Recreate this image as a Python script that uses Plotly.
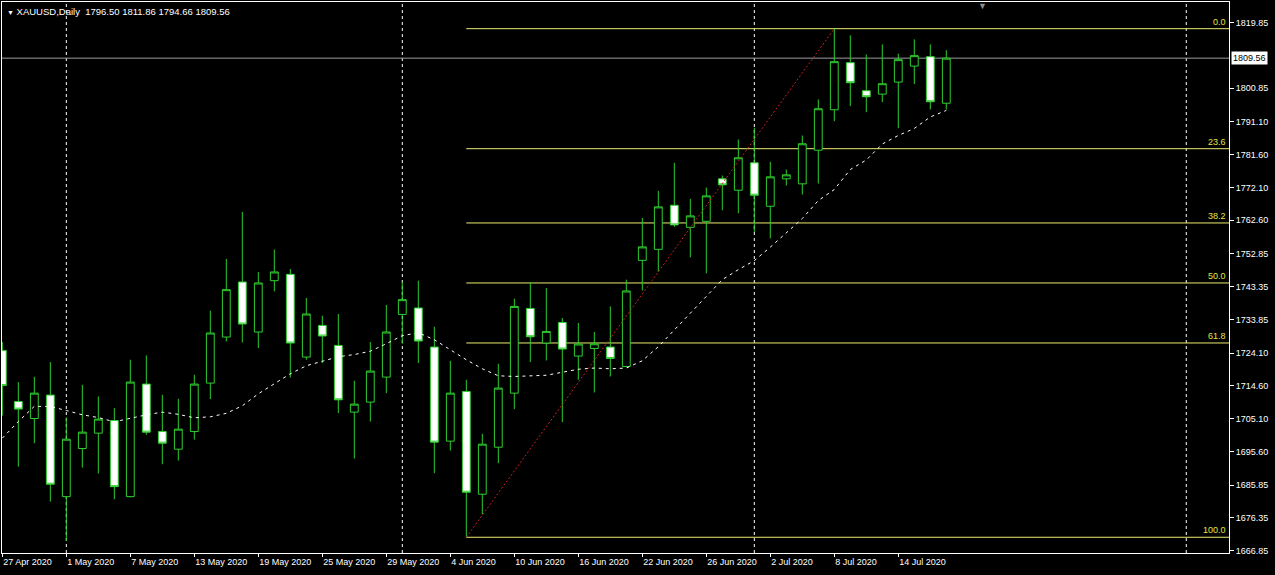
import plotly.graph_objects as go

# ---------------- data ----------------
dates = ["27 Apr 2020", "28 Apr 2020", "29 Apr 2020", "30 Apr 2020", "1 May 2020",
         "4 May 2020", "5 May 2020", "6 May 2020", "7 May 2020", "8 May 2020",
         "11 May 2020", "12 May 2020", "13 May 2020", "14 May 2020", "15 May 2020",
         "18 May 2020", "19 May 2020", "20 May 2020", "21 May 2020", "22 May 2020",
         "25 May 2020", "26 May 2020", "27 May 2020", "28 May 2020", "29 May 2020",
         "1 Jun 2020", "2 Jun 2020", "3 Jun 2020", "4 Jun 2020", "5 Jun 2020",
         "8 Jun 2020", "9 Jun 2020", "10 Jun 2020", "11 Jun 2020", "12 Jun 2020",
         "15 Jun 2020", "16 Jun 2020", "17 Jun 2020", "18 Jun 2020", "19 Jun 2020",
         "22 Jun 2020", "23 Jun 2020", "24 Jun 2020", "25 Jun 2020", "26 Jun 2020",
         "29 Jun 2020", "30 Jun 2020", "1 Jul 2020", "2 Jul 2020", "3 Jul 2020",
         "6 Jul 2020", "7 Jul 2020", "8 Jul 2020", "9 Jul 2020", "10 Jul 2020",
         "13 Jul 2020", "14 Jul 2020", "15 Jul 2020", "16 Jul 2020", "17 Jul 2020"]

opens = [1724.87, 1710.07, 1705.14, 1711.93, 1682.51, 1696.44, 1700.91, 1704.56, 1682.51, 1715.12,
         1701.37, 1696.26, 1701.37, 1715.41, 1728.76, 1744.71, 1730.21, 1745.09, 1746.92, 1722.95,
         1732.12, 1726.32, 1707.00, 1709.90, 1717.15, 1735.31, 1737.17, 1725.85, 1698.59, 1712.98,
         1683.21, 1696.84, 1712.50, 1737.05, 1727.02, 1732.99, 1723.24, 1725.45, 1725.85, 1720.23,
         1750.98, 1754.17, 1766.93, 1760.55, 1762.29, 1774.59, 1771.29, 1779.24, 1766.64, 1774.59,
         1773.14, 1782.89, 1794.61, 1808.25, 1800.12, 1799.14, 1802.62, 1807.26, 1809.99, 1796.50]
highs = [1727.30, 1715.70, 1717.24, 1721.50, 1705.43, 1714.92, 1711.53, 1708.16, 1722.17, 1723.42,
         1712.02, 1710.86, 1717.82, 1736.39, 1751.38, 1765.02, 1747.61, 1754.08, 1748.48, 1740.07,
         1734.94, 1735.43, 1716.08, 1727.30, 1738.04, 1744.71, 1745.09, 1731.75, 1721.88, 1716.37,
         1700.70, 1721.01, 1739.87, 1744.71, 1742.97, 1734.27, 1732.82, 1730.21, 1737.63, 1745.38,
         1763.28, 1771.11, 1779.24, 1768.79, 1772.07, 1775.55, 1785.99, 1789.39, 1779.53, 1777.29,
         1787.15, 1797.60, 1818.10, 1816.17, 1810.65, 1813.55, 1810.86, 1815.01, 1813.55, 1811.86]
lows = [1706.00, 1691.20, 1698.00, 1681.06, 1669.66, 1690.93, 1689.19, 1681.76, 1682.30, 1700.42,
        1691.91, 1692.96, 1699.03, 1710.77, 1727.48, 1727.19, 1725.57, 1741.99, 1717.04, 1722.17,
        1721.21, 1706.71, 1693.54, 1704.27, 1712.51, 1726.81, 1721.21, 1689.30, 1695.86, 1670.74,
        1677.41, 1692.20, 1707.87, 1721.50, 1721.97, 1704.10, 1716.37, 1712.69, 1717.33, 1720.00,
        1742.28, 1747.70, 1760.67, 1751.85, 1747.21, 1765.48, 1764.61, 1759.22, 1757.36, 1772.65,
        1770.04, 1773.23, 1791.30, 1795.65, 1793.91, 1796.82, 1789.27, 1802.04, 1794.70, 1794.66]
closes = [1714.70, 1707.87, 1712.50, 1686.11, 1699.16, 1701.20, 1704.97, 1685.41, 1715.70, 1701.20,
          1698.00, 1702.07, 1715.12, 1729.92, 1742.48, 1732.53, 1744.42, 1747.61, 1727.02, 1735.43,
          1729.05, 1710.57, 1709.32, 1718.89, 1730.21, 1739.58, 1727.60, 1698.30, 1712.50, 1683.79,
          1697.71, 1713.96, 1737.63, 1728.84, 1730.38, 1725.27, 1726.73, 1726.81, 1722.55, 1742.10,
          1754.87, 1766.47, 1761.25, 1763.86, 1769.66, 1772.85, 1780.69, 1769.84, 1775.17, 1775.75,
          1784.75, 1794.90, 1808.54, 1802.44, 1798.38, 1802.15, 1809.12, 1810.28, 1796.93, 1809.56]

moving_average = [1699.46, 1704.25, 1708.68, 1708.63, 1707.47, 1706.22, 1705.43, 1704.19, 1705.20, 1706.22,
                  1707.00, 1706.36, 1705.35, 1705.64, 1706.65, 1708.83, 1712.31, 1715.21, 1718.11, 1720.43,
                  1721.74, 1723.04, 1723.68, 1724.64, 1726.82, 1729.14, 1730.01, 1727.98, 1725.07, 1722.17,
                  1719.56, 1717.53, 1717.33, 1717.44, 1717.68, 1718.55, 1719.42, 1719.77, 1719.56, 1719.77,
                  1721.88, 1725.95, 1730.88, 1735.81, 1740.74, 1745.38, 1748.28, 1750.89, 1754.81, 1758.87,
                  1763.08, 1768.30, 1771.49, 1777.29, 1780.05, 1784.69, 1787.16, 1789.19, 1792.52, 1794.41]

price_ticks = [1819.85, 1800.85, 1791.10, 1781.60, 1772.10, 1762.60, 1752.85, 1743.35,
               1733.85, 1724.10, 1714.60, 1705.10, 1695.60, 1685.85, 1676.35, 1666.85]
date_tick_bars = [0, 4, 8, 12, 16, 20, 24, 28, 32, 36, 40, 44, 48, 52, 56]
separator_bars = [4, 25, 47, 74]          # month starts (1 May, 1 Jun, 1 Jul, 1 Aug)

current_price = 1809.56
header = "XAUUSD,Daily  1796.50 1811.86 1794.66 1809.56"

fib_start_bar, fib_end_bar = 29, 52
fib_low, fib_high = 1670.74, 1818.10
fib_levels = [0.0, 23.6, 38.2, 50.0, 61.8, 100.0]

x_min, x_max = -0.02, 76.67
y_min, y_max = 1666.18, 1825.83

# ---------------- styles ----------------
GREEN = "#2fcf2f"
FONT = "Liberation Sans"
FIB_LINE = "#ecec70"
FIB_TEXT = "#e4e440"

bars = list(range(len(opens)))

fig = go.Figure()

fig.add_trace(go.Candlestick(
    x=bars, open=opens, high=highs, low=lows, close=closes,
    increasing=dict(line=dict(color=GREEN, width=1), fillcolor="#000000"),
    decreasing=dict(line=dict(color=GREEN, width=1), fillcolor="#ffffff"),
    whiskerwidth=0, showlegend=False, hoverinfo="skip"))

fig.add_trace(go.Scatter(
    x=bars, y=moving_average, mode="lines",
    line=dict(color="#ffffff", width=1, dash="3px,4px"),
    showlegend=False, hoverinfo="skip"))

shapes = []
# period separators
for b in separator_bars:
    shapes.append(dict(type="line", xref="x", yref="paper", x0=b, x1=b, y0=0, y1=1,
                       line=dict(color="#ffffff", width=1, dash="3px,3px"), layer="below"))
# current price line
shapes.append(dict(type="line", xref="paper", yref="y", x0=0, x1=1,
                   y0=current_price, y1=current_price,
                   line=dict(color="#9a9aa2", width=1), layer="below"))
# fibonacci levels
annotations = []
for lv in fib_levels:
    price = fib_high - (fib_high - fib_low) * lv / 100.0
    shapes.append(dict(type="line", xref="x", yref="y", x0=fib_start_bar, x1=x_max,
                       y0=price, y1=price, line=dict(color=FIB_LINE, width=1), layer="below"))
    annotations.append(dict(xref="paper", yref="y", x=1, y=price, xanchor="right",
                            yanchor="bottom", xshift=-1, yshift=0, showarrow=False,
                            text="%.1f" % lv, font=dict(family=FONT, size=9, color=FIB_TEXT)))
# fibonacci trend line
shapes.append(dict(type="line", xref="x", yref="y", x0=fib_start_bar, x1=fib_end_bar,
                   y0=fib_low, y1=fib_high, line=dict(color="#c42020", width=1, dash="2px,2px")))

# header text
annotations.append(dict(xref="paper", yref="paper", x=0, y=1, xanchor="left", yanchor="top",
                        xshift=3, yshift=-2, showarrow=False,
                        text="<span style='font-size:7px'>▼</span> " + header,
                        font=dict(family=FONT, size=9.5, color="#ffffff")))
# current price label
annotations.append(dict(xref="paper", yref="y", x=1, y=current_price, xanchor="left",
                        yanchor="middle", xshift=2, showarrow=False, text="%.2f" % current_price,
                        bgcolor="#ffffff", borderpad=1,
                        font=dict(family=FONT, size=9, color="#000000")))
# chart shift marker
annotations.append(dict(xref="paper", yref="paper", x=0.7987, y=1, xanchor="center",
                        yanchor="top", yshift=3, showarrow=False, text="▼",
                        font=dict(family=FONT, size=9, color="#8c8c8c")))

fig.update_layout(
    width=1275, height=575,
    margin=dict(l=2, r=46, t=2, b=22),
    paper_bgcolor="#000000", plot_bgcolor="#000000",
    shapes=shapes, annotations=annotations,
    showlegend=False,
    xaxis=dict(range=[x_min, x_max], tickmode="array", tickvals=date_tick_bars,
               ticktext=[dates[b] for b in date_tick_bars],
               ticks="outside", ticklen=3, tickcolor="#ffffff",
               ticklabelposition="outside right",
               tickfont=dict(family=FONT, size=9, color="#ffffff"),
               showgrid=False, zeroline=False, showline=True, linecolor="#ffffff",
               linewidth=1, mirror=True, rangeslider=dict(visible=False), fixedrange=True),
    yaxis=dict(range=[y_min, y_max], side="right", tickmode="array", tickvals=price_ticks,
               ticktext=["%.2f" % v for v in price_ticks],
               ticks="outside", ticklen=4, tickcolor="#ffffff",
               tickfont=dict(family=FONT, size=9, color="#ffffff"),
               showgrid=False, zeroline=False, showline=True, linecolor="#ffffff",
               linewidth=1, mirror=True, fixedrange=True),
)

fig.write_html("out.html", config={"displayModeBar": False},
               post_script="document.body.style.margin='0';document.body.style.overflow='hidden';")
